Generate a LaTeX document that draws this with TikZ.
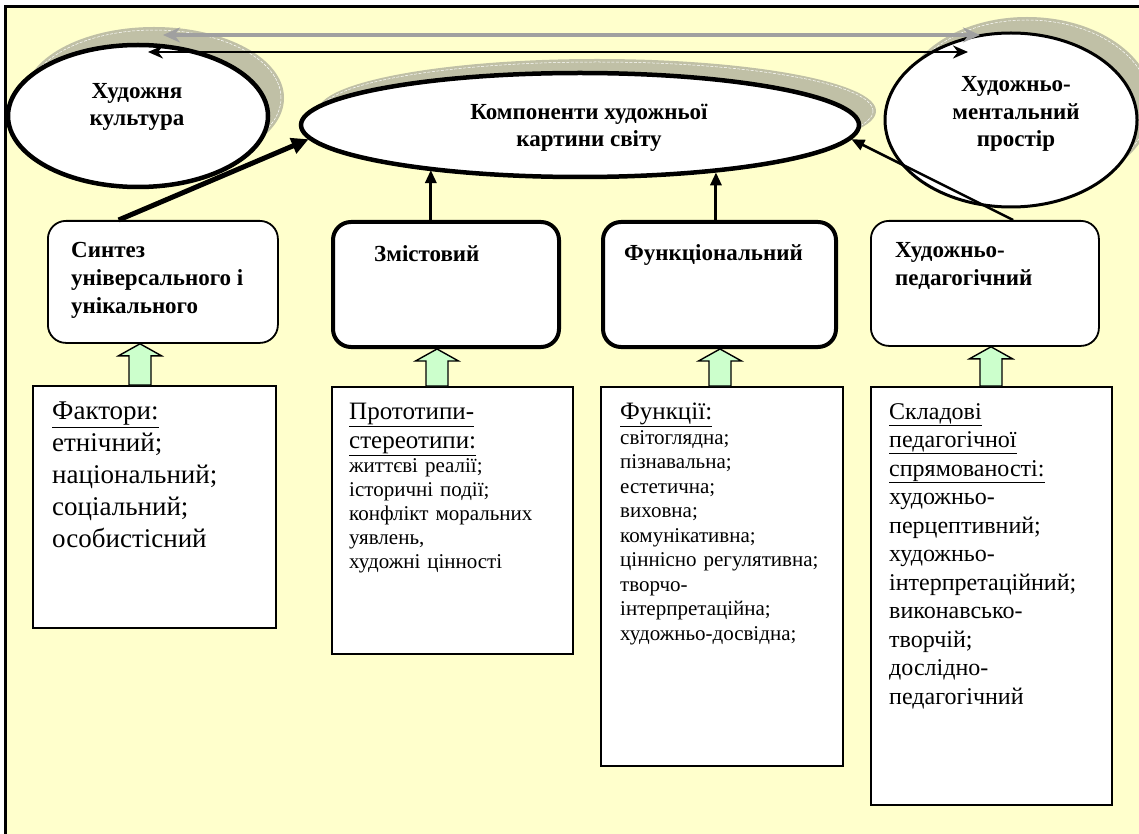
\documentclass[tikz,border=0pt]{standalone}
\usepackage{fontspec}
\setmainfont{Liberation Serif}
\usetikzlibrary{arrows.meta,calc,shapes.geometric,shadows}
\definecolor{bgyellow}{RGB}{255,255,204}
\definecolor{shadowc}{RGB}{192,192,166}
\definecolor{gfill}{RGB}{204,255,204}
\definecolor{grayarrow}{RGB}{160,160,160}
\newcommand{\garr}[3]{\draw[garrowst] let \p1=(#2.south), \p2=(#3.north), \p3=(#1,0) in
  (\x3,\y1) -- (\x3+21.5pt,\y1-12pt) -- (\x3+11pt,\y1-12pt) -- (\x3+11pt,\y2) --
  (\x3-11pt,\y2) -- (\x3-11pt,\y1-12pt) -- (\x3-21.5pt,\y1-12pt) -- cycle;}
\begin{document}
\begin{tikzpicture}[x=1pt,y=-1pt,
  ell/.style={ellipse, draw=black, fill=white, inner sep=0pt},
  shad/.style={ellipse, fill=shadowc, draw=none, inner sep=0pt},
  shadline/.style={ellipse, draw=white, dash pattern=on 3pt off 1.5pt, line width=0.5pt, inner sep=0pt},
  etxt/.style={font=\fontsize{23}{27.5}\selectfont\bfseries, align=center, inner sep=0pt},
  rb/.style={draw, fill=white, rounded corners=18pt, anchor=north west, inner sep=0pt},
  btxt/.style={font=\fontsize{23}{28}\selectfont\bfseries, align=left, anchor=north west, inner sep=0pt},
  tb/.style={draw, line width=1.6pt, fill=white, anchor=north west, inner sep=0pt,
    drop shadow={shadow xshift=1.6pt, shadow yshift=-1.6pt, fill=black, opacity=1}},
  ttxt/.style={align=left, anchor=north west, inner sep=0pt},
  conn/.style={draw=black, -{Triangle[length=13pt,width=11pt]}},
  garrowst/.style={draw=black, fill=gfill, line width=1.4pt, line join=miter}
]
\useasboundingbox (0,0) rectangle (1139,834);
% background and frame
\fill[bgyellow] (4,6) rectangle (1139,834);
\draw[line width=3pt] (5,834) -- (5,7) -- (1139,7);

% ellipse shadows
\node[shad, minimum width=260pt, minimum height=142pt] (lsh) at (154,98) {};
\node[shadline, minimum width=254pt, minimum height=136pt] (lshl) at (154,98) {};
\node[shad, minimum width=558pt, minimum height=104pt] (csh) at (597,111) {};
\node[shadline, minimum width=552pt, minimum height=98pt] (cshl) at (597,111) {};
\node[shad, minimum width=252pt, minimum height=174pt] (rsh) at (1027,104) {};
\node[shadline, minimum width=246pt, minimum height=168pt] (rshl) at (1027,104) {};

% ellipses
\node[ell, line width=4.5pt, minimum width=260pt, minimum height=142pt] (l) at (138,116) {};
\node[ell, line width=4.5pt, minimum width=558pt, minimum height=104pt] (c) at (580,125) {};
\node[ell, line width=3pt, minimum width=252pt, minimum height=174pt] (r) at (1011,120) {};
\node[etxt] (lt) at (137,107) {Художня\\культура};
\node[etxt] (ct) at (589,128) {Компоненти художньої\\картини світу};
\node[etxt] (rt) at (1016,114) {Художньо-\\ментальний\\простір};

% top double arrows
\coordinate (ga1) at (163,35);
\coordinate (ga2) at (980,35);
\coordinate (ba1) at (148,52);
\coordinate (ba2) at (968,52);
\draw[grayarrow, line width=4pt, {Stealth[length=17pt,width=15pt]}-{Stealth[length=17pt,width=15pt]}] (ga1) -- (ga2);
\draw[black, line width=2.5pt, {Stealth[length=15pt,width=13pt]}-{Stealth[length=15pt,width=13pt]}] (ba1) -- (ba2);

% rounded boxes
\node[rb, line width=1.8pt, minimum width=230pt, minimum height=122pt] (b1) at (47,220) {};
\node[rb, line width=4pt, minimum width=226pt, minimum height=125pt] (b2) at (331,220) {};
\node[rb, line width=4pt, minimum width=233pt, minimum height=125pt] (b3) at (601,220) {};
\node[rb, line width=1.8pt, minimum width=228pt, minimum height=125pt] (b4) at (870,220) {};
\node[btxt] (b1t) at (71,242) {Синтез\\універсального і\\унікального};
\node[btxt] (b2t) at (374,245) {Змістовий};
\node[btxt] (b3t) at (624,244) {Функціональний};
\node[btxt] (b4t) at (895,242) {Художньо-\\педагогічний};

% connectors to the central ellipse
\coordinate (b1a) at ($(b1.north west)!0.309!(b1.north east)$);
\coordinate (b2a) at ($(b2.north west)!0.434!(b2.north east)$);
\coordinate (b3a) at ($(b3.north west)!0.485!(b3.north east)$);
\coordinate (b4a) at ($(b4.north west)!0.623!(b4.north east)$);
\draw[conn, line width=5pt, -{Triangle[length=17pt,width=16pt]}] (b1a) -- (c.183);
\draw[conn, line width=3pt] (b2a) -- (b2a |- c.196);
\draw[conn, line width=3pt] (b3a) -- (b3a |- c.341);
\draw[conn, line width=2.5pt] (b4a) -- (c.-3.2);

% text boxes
\node[tb, minimum width=243pt, minimum height=242pt] (t1) at (32,385) {};
\node[tb, minimum width=241pt, minimum height=267pt] (t2) at (331,386) {};
\node[tb, minimum width=242pt, minimum height=379pt] (t3) at (600,386) {};
\node[tb, minimum width=241pt, minimum height=418pt] (t4) at (870,386) {};

% green block arrows
\garr{140}{b1}{t1}
\garr{437}{b2}{t2}
\garr{720}{b3}{t3}
\garr{991}{b4}{t4}

\node[ttxt, font=\fontsize{27}{32}\selectfont] (t1t) at (52,402)
  {\underline{Фактори:}\\етнічний;\\національний;\\соціальний;\\особистісний};
\node[ttxt, text width=220pt, font=\fontsize{21}{24}\selectfont] (t2t) at (349,403)
  {{\fontsize{25}{29}\selectfont\noindent\underline{Прототипи-}\\\underline{стереотипи:}\par}%
   \noindent життєві реалії;\\історичні події;\\конфлікт моральних\\уявлень,\\художні цінності\par};
\node[ttxt, text width=220pt, font=\fontsize{21}{24.5}\selectfont] (t3t) at (620,403)
  {{\fontsize{25}{29}\selectfont\noindent\underline{Функції:}\par}%
   \noindent світоглядна;\\пізнавальна;\\естетична;\\виховна;\\комунікативна;\\ціннісно регулятивна;\\творчо-\\інтерпретаційна;\\художньо-досвідна;\par};
\node[ttxt, font=\fontsize{24}{28.5}\selectfont] (t4t) at (889,403)
  {\underline{Складові}\\\underline{педагогічної}\\\underline{спрямованості:}\\художньо-\\перцептивний;\\художньо-\\інтерпретаційний;\\виконавсько-\\творчій;\\дослідно-\\педагогічний};
\end{tikzpicture}
\end{document}
